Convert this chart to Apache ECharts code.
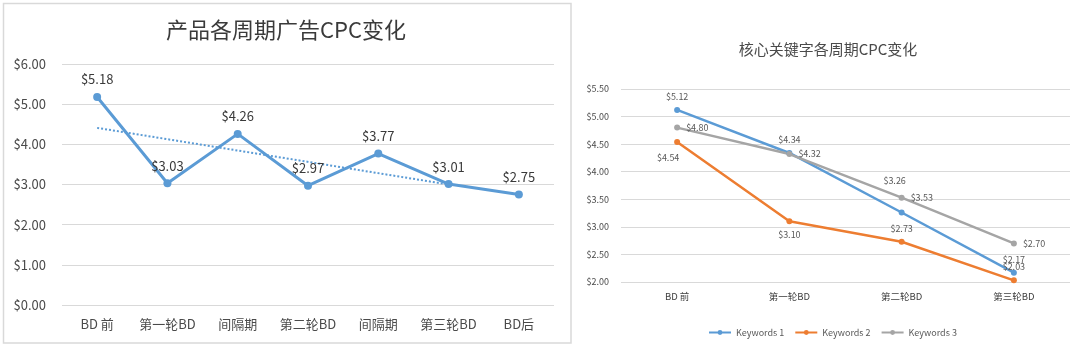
<!DOCTYPE html>
<html>
<head>
<meta charset="utf-8">
<script src="https://cdn.jsdelivr.net/npm/echarts@6/dist/echarts.min.js"></script>
<style>
  html, body { margin: 0; padding: 0; background: #fff; }
  #chart { width: 1080px; height: 351px; }
</style>
</head>
<body>
<div id="chart"></div>
<script>
// left chart: product CPC by period
const periodNames = ['BD 前', '第一轮BD', '间隔期', '第二轮BD', '间隔期', '第三轮BD', 'BD后'];
const periodCpc = [5.18, 3.03, 4.26, 2.97, 3.77, 3.01, 2.75];
// trendline end points as drawn (BD 前 -> 第三轮BD)
const trendValues = [4.41, null, null, null, null, 3.00, null];
const leftTicks = { min: 0, max: 6, interval: 1 };

// right chart: core keyword CPC by round
const roundNames = ['BD 前', '第一轮BD', '第二轮BD', '第三轮BD'];
const keywordNames = ['Keywords 1', 'Keywords 2', 'Keywords 3'];
const keyword1 = [5.12, 4.34, 3.26, 2.17];
const keyword2 = [4.54, 3.10, 2.73, 2.03];
const keyword3 = [4.80, 4.32, 3.53, 2.70];
const rightTicks = { min: 2, max: 5.5, interval: 0.5 };

const font = '"Noto Sans CJK SC", "Noto Sans", sans-serif';
const blue = '#5b9bd5', orange = '#ed7d31', gray = '#a5a5a5';
const money = v => '$' + Number(v).toFixed(2);

// label placement for the right chart, Excel put them a bit all over
const k1Data = keyword1.map((v, i) => i === 2 ? { value: v, label: { offset: [-7, -18] } } : v);
const k2Pos = ['bottom', 'bottom', 'top', 'top'];
const k2Data = keyword2.map((v, i) => ({
    value: v,
    label: { position: k2Pos[i], offset: i === 0 ? [-9, 2] : [0, 0] }
}));

const chart = echarts.init(document.getElementById('chart'));
chart.setOption({
    animation: false,
    textStyle: { fontFamily: font },
    title: [
        {
            text: '产品各周期广告CPC变化',
            left: 286, top: 18, textAlign: 'center', padding: 0,
            textStyle: { fontSize: 22, lineHeight: 24, fontWeight: 'normal', color: '#3a3a3a', fontFamily: font }
        },
        {
            text: '核心关键字各周期CPC变化',
            left: 828, top: 40, textAlign: 'center', padding: 0,
            textStyle: { fontSize: 15, lineHeight: 18, fontWeight: 'normal', color: '#4a4a4a', fontFamily: font }
        }
    ],
    graphic: [{
        type: 'rect',
        shape: { x: 3.5, y: 3.5, width: 567.5, height: 339.5 },
        style: { fill: 'none', stroke: '#d9d9d9', lineWidth: 1.5 },
        silent: true
    }],
    legend: {
        data: keywordNames,
        left: 708, top: 328, padding: 0,
        itemWidth: 22, itemHeight: 6, itemGap: 10,
        textStyle: { fontSize: 9, color: '#595959', fontFamily: font }
    },
    grid: [
        { left: 62, right: 526, top: 64, bottom: 46 },
        { left: 621, right: 10, top: 89, bottom: 69 }
    ],
    xAxis: [
        {
            type: 'category', gridIndex: 0, data: periodNames,
            axisLine: { show: false }, axisTick: { show: false },
            axisLabel: { margin: 13, fontSize: 13, color: '#4a4a4a', fontFamily: font, interval: 0 }
        },
        {
            type: 'category', gridIndex: 1, data: roundNames,
            axisLine: { show: false }, axisTick: { show: false },
            axisLabel: { margin: 10, fontSize: 9.5, color: '#404040', fontFamily: font, interval: 0 }
        }
    ],
    yAxis: [
        {
            type: 'value', gridIndex: 0,
            min: leftTicks.min, max: leftTicks.max, interval: leftTicks.interval,
            axisLabel: { margin: 16, fontSize: 13, color: '#4a4a4a', formatter: money, fontFamily: font },
            splitLine: { lineStyle: { color: '#d9d9d9', width: 1.2 } }
        },
        {
            type: 'value', gridIndex: 1,
            min: rightTicks.min, max: rightTicks.max, interval: rightTicks.interval,
            axisLabel: { margin: 12, fontSize: 9, color: '#4a4a4a', formatter: money, fontFamily: font },
            splitLine: { lineStyle: { color: '#d9d9d9', width: 1.2 } }
        }
    ],
    series: [
        {
            name: '产品CPC', type: 'line', xAxisIndex: 0, yAxisIndex: 0,
            data: periodCpc,
            symbol: 'circle', symbolSize: 8,
            itemStyle: { color: blue },
            lineStyle: { color: blue, width: 3 },
            label: {
                show: true, position: 'top', distance: 7,
                fontSize: 13, color: '#3a3a3a', formatter: p => money(p.value), fontFamily: font
            }
        },
        {
            name: 'trend', type: 'line', xAxisIndex: 0, yAxisIndex: 0,
            data: trendValues, connectNulls: true,
            showSymbol: false, silent: true,
            lineStyle: { color: blue, width: 2, type: [2, 2] },
            z: 3
        },
        {
            name: keywordNames[0], type: 'line', xAxisIndex: 1, yAxisIndex: 1,
            data: k1Data,
            symbol: 'circle', symbolSize: 6,
            itemStyle: { color: blue },
            lineStyle: { color: blue, width: 2.5 },
            label: {
                show: true, position: 'top', distance: 6,
                fontSize: 9, color: '#595959', formatter: p => money(p.value), fontFamily: font
            }
        },
        {
            name: keywordNames[1], type: 'line', xAxisIndex: 1, yAxisIndex: 1,
            data: k2Data,
            symbol: 'circle', symbolSize: 6,
            itemStyle: { color: orange },
            lineStyle: { color: orange, width: 2.5 },
            label: {
                show: true, distance: 6,
                fontSize: 9, color: '#595959', formatter: p => money(p.value), fontFamily: font
            }
        },
        {
            name: keywordNames[2], type: 'line', xAxisIndex: 1, yAxisIndex: 1,
            data: keyword3,
            symbol: 'circle', symbolSize: 6,
            itemStyle: { color: gray },
            lineStyle: { color: gray, width: 2.5 },
            label: {
                show: true, position: 'right', distance: 6,
                fontSize: 9, color: '#595959', formatter: p => money(p.value), fontFamily: font
            }
        }
    ]
});
</script>
</body>
</html>
